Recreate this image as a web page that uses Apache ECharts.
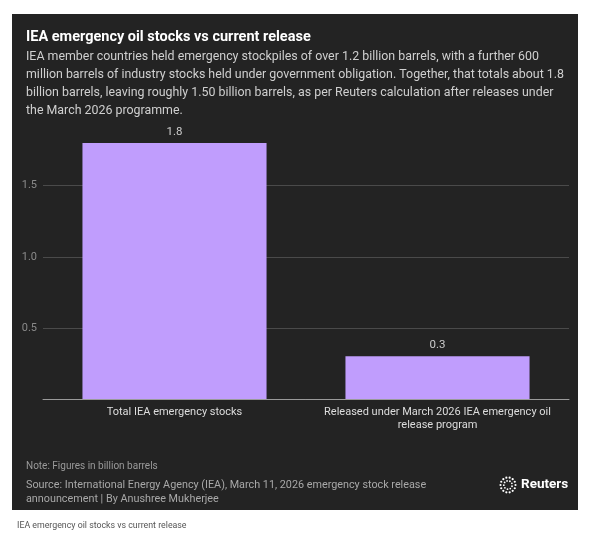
<!DOCTYPE html>
<html>
<head>
<meta charset="utf-8">
<script src="https://cdn.jsdelivr.net/npm/echarts@6/dist/echarts.min.js"></script>
<style>
html,body{margin:0;padding:0;background:#fff;}
#chart{width:597px;height:533px;}
</style>
</head>
<body>
<div id="chart"></div>
<script>
const categories = [
  "Total IEA emergency stocks",
  "Released under March 2026 IEA emergency oil\nrelease program"
];
const values = [1.8, 0.3];
const yTicks = [0.5, 1.0, 1.5];

const titleText = "IEA emergency oil stocks vs current release";
const subtitleLines = [
  "IEA member countries held emergency stockpiles of over 1.2 billion barrels, with a further 600",
  "million barrels of industry stocks held under government obligation. Together, that totals about 1.8",
  "billion barrels, leaving roughly 1.50 billion barrels, as per Reuters calculation after releases under",
  "the March 2026 programme."
];
const noteText = "Note: Figures in billion barrels";
const sourceLines = [
  "Source: International Energy Agency (IEA), March 11, 2026 emergency stock release",
  "announcement | By Anushree Mukherjee"
];
const captionText = "IEA emergency oil stocks vs current release";

const FONT = "Roboto";
const chart = echarts.init(document.getElementById('chart'));

// Reuters logo dots (decorative)
const logoDots = [];
const cx = 508, cy = 485;
for (let i = 0; i < 14; i++) {
  const a = i / 14 * Math.PI * 2;
  logoDots.push({type:'circle', shape:{cx: cx + 7.5*Math.cos(a), cy: cy + 7.5*Math.sin(a), r:1.1}, style:{fill:'#ffffff'}, z:10});
}
for (let i = 0; i < 9; i++) {
  const a = i / 9 * Math.PI * 2 + 0.3;
  logoDots.push({type:'circle', shape:{cx: cx + 4.2*Math.cos(a), cy: cy + 4.2*Math.sin(a), r:0.9}, style:{fill:'#ffffff'}, z:10});
}

chart.setOption({
  backgroundColor: '#ffffff',
  animation: false,
  graphic: [
    {type:'rect', shape:{x:12, y:14, width:566, height:496}, style:{fill:'#232323'}, z:-10, silent:true},
    ...logoDots,
    {type:'text', x:521, y:485, style:{text:'Reuters', fill:'#ffffff', font:'bold 13.5px ' + FONT, textVerticalAlign:'middle'}, z:10}
  ],
  title: [
    {text: titleText, left: 21, top: 25,
     textStyle:{color:'#ffffff', fontFamily: FONT, fontWeight:'bold', fontSize:14.5}},
    {text: subtitleLines.join('\n'), left: 21, top: 43,
     textStyle:{color:'#cfcfcf', fontFamily: FONT, fontWeight:'normal', fontSize:12.4, lineHeight:18}},
    {text: noteText, left: 21, top: 456,
     textStyle:{color:'#9a9a9a', fontFamily: FONT, fontWeight:'normal', fontSize:10}},
    {text: sourceLines.join('\n'), left: 21, top: 474,
     textStyle:{color:'#a8a8a8', fontFamily: FONT, fontWeight:'normal', fontSize:10.8, lineHeight:13.5}},
    {text: captionText, left: 12, top: 516,
     textStyle:{color:'#555555', fontFamily: FONT, fontWeight:'normal', fontSize:8.8}}
  ],
  grid: {left: 43, right: 28, top: 143, bottom: 134, containLabel: false},
  xAxis: {
    type: 'category',
    data: categories,
    axisLine: {show: true, lineStyle: {color: '#9a9a9a', width: 1}},
    axisTick: {show: false},
    axisLabel: {color: '#dddddd', fontFamily: FONT, fontSize: 11, lineHeight: 13.5, margin: 6, interval: 0}
  },
  yAxis: {
    type: 'value',
    min: 0, max: 1.8, interval: 0.5,
    axisLine: {show: false},
    axisTick: {show: false},
    splitLine: {show: true, showMinLine: false, showMaxLine: false, lineStyle: {color: '#4a4a4a', width: 1}},
    axisLabel: {
      color: '#8a8a8a', fontFamily: FONT, fontSize: 11, margin: 6,
      showMinLabel: false, showMaxLabel: false,
      formatter: function (v) { return yTicks.indexOf(Math.round(v*10)/10) >= 0 ? v.toFixed(1) : ''; }
    }
  },
  series: [{
    type: 'bar',
    data: values,
    barWidth: '70%',
    itemStyle: {color: '#c09dfd'},
    label: {show: true, position: 'top', distance: 5, color: '#cccccc', fontFamily: FONT, fontSize: 11.5,
      formatter: function (p) { return p.value.toFixed(1); }}
  }]
});
</script>
</body>
</html>
